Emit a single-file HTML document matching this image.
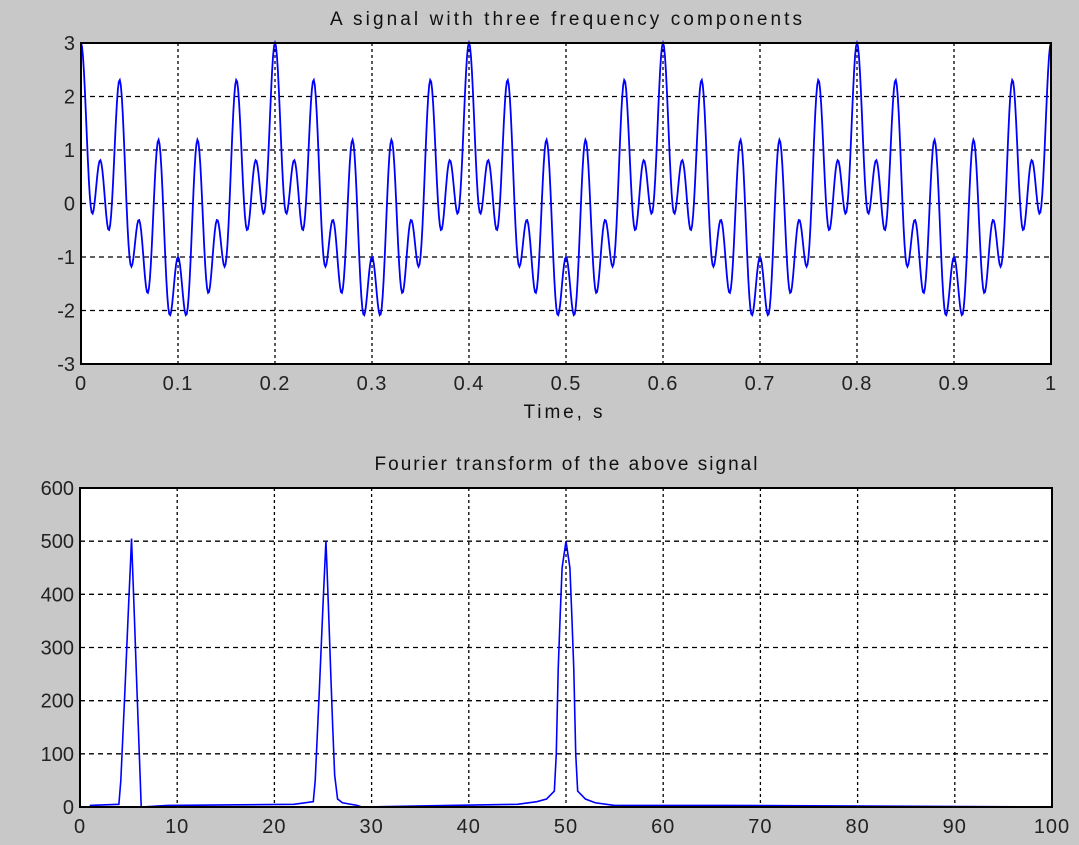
<!DOCTYPE html>
<html><head><meta charset="utf-8"><style>
body{margin:0;background:#c8c8c8;}
svg{display:block;font-family:"Liberation Sans",sans-serif;}
</style></head><body>
<svg id="fig" width="1079" height="845">
<rect width="1079" height="845" fill="#c8c8c8"/>
</svg>
<script>
// Top plot data: signal components
const compFreqs = [5, 25, 50];
const compAmps = [1, 1, 1];
const timeTicks = [0,0.1,0.2,0.3,0.4,0.5,0.6,0.7,0.8,0.9,1];
const timeTickLabels = ["0","0.1","0.2","0.3","0.4","0.5","0.6","0.7","0.8","0.9","1"];
const sigTicks = [-3,-2,-1,0,1,2,3];
// Bottom plot data: spectrum
const specFreqs = [1,4.0,4.2,4.4,4.6,4.8,5.0,5.2,5.3,5.4,5.6,5.8,6.0,6.2,6.3,9,22,24,24.2,24.4,24.6,24.8,25.0,25.2,25.3,25.4,25.6,25.8,26.0,26.2,26.5,27,28.5,29,38,45,47,48,48.8,49.0,49.2,49.4,49.6,50,50.4,50.6,50.8,51.0,51.2,52,53,55,66,100];
const specMags  = [3,5,50,130,210,295,380,460,505,455,355,250,150,50,0,3,5,10,50,130,210,295,380,460,500,455,355,250,150,60,15,8,3,0,3,5,10,15,30,100,260,360,450,500,450,360,260,100,30,15,8,3,3,0];
const freqTicks = [0,10,20,30,40,50,60,70,80,90,100];
const magTicks = [0,100,200,300,400,500,600];

const NS="http://www.w3.org/2000/svg";
const svgRoot=document.getElementById('fig');
function mk(tag,attrs,parent){const e=document.createElementNS(NS,tag);for(const k in attrs)e.setAttribute(k,attrs[k]);(parent||svgRoot).appendChild(e);return e;}

function axes(cfg){
  const {x0,x1,y0,y1,xmin,xmax,ymin,ymax,xt,xl,yt,title,titleLen,xlabel,name}=cfg;
  const sx=v=>x0+(v-xmin)/(xmax-xmin)*(x1-x0);
  const sy=v=>y1-(v-ymin)/(ymax-ymin)*(y1-y0);
  const g=mk('g',{});
  
  
  const bg=mk('rect',{x:x0,y:y0,width:x1-x0,height:y1-y0,fill:'#fff'},g);
  
  
  xt.forEach((v,i)=>{
    const X=sx(v);
    if(i>0&&i<xt.length-1){const l=mk('line',{x1:X,x2:X,y1:y0,y2:y1,stroke:'#000','stroke-dasharray':'3,3','stroke-width':1.3},g);
      }
    const t=mk('text',{x:X,y:y1+26,'text-anchor':'middle','font-size':20,'letter-spacing':1,fill:'#222'},g);
    t.textContent=xl[i];
    
  });
  yt.forEach((v,i)=>{
    const Y=sy(v);
    if(i>0&&i<yt.length-1){const l=mk('line',{x1:x0,x2:x1,y1:Y,y2:Y,stroke:'#000','stroke-dasharray':'5,4','stroke-width':1.3},g);
      }
    const t=mk('text',{x:x0-6,y:Y+7,'text-anchor':'end','font-size':20,fill:'#222'},g);
    t.textContent=String(v);
    
  });
  const tt=mk('text',{x:(x0+x1)/2,y:y0-18,'text-anchor':'middle','font-size':19,fill:'#111',textLength:titleLen,lengthAdjust:'spacing'},g);
  tt.textContent=title;
  
  if(xlabel){const xt2=mk('text',{x:563,y:y1+54,'text-anchor':'middle','font-size':19,fill:'#111',textLength:79,lengthAdjust:'spacing'},g);
    xt2.textContent=xlabel;
    }
  return {sx,sy,g,box:()=>{const b=mk('rect',{x:x0,y:y0,width:x1-x0,height:y1-y0,fill:'none',stroke:'#000','stroke-width':2},g);
    }};
}

const topAx=axes({x0:81,x1:1051,y0:43,y1:364,xmin:0,xmax:1,ymin:-3,ymax:3,xt:timeTicks,xl:timeTickLabels,yt:sigTicks,title:'A signal with three frequency components',titleLen:472,xlabel:'Time, s',name:'signal-plot'});
let d='';
const N=1000;
for(let i=0;i<=N;i++){const t=i/N;let v=0;compFreqs.forEach((f,k)=>{v+=compAmps[k]*Math.cos(2*Math.PI*f*t);});
  d+=(i?'L':'M')+topAx.sx(t).toFixed(2)+','+topAx.sy(v).toFixed(2);}
const sl=mk('path',{d:d,fill:'none',stroke:'#0000ff','stroke-width':1.8},topAx.g);


topAx.box();

const botAx=axes({x0:80,x1:1052,y0:488,y1:807,xmin:0,xmax:100,ymin:0,ymax:600,xt:freqTicks,xl:freqTicks.map(String),yt:magTicks,title:'Fourier transform of the above signal',titleLen:383,xlabel:null,name:'spectrum-plot'});
let d2='';
specFreqs.forEach((f,i)=>{d2+=(i?'L':'M')+botAx.sx(f).toFixed(2)+','+botAx.sy(specMags[i]).toFixed(2);});
const sp=mk('path',{d:d2,fill:'none',stroke:'#0000ff','stroke-width':1.6},botAx.g);


botAx.box();
</script>
</body></html>
